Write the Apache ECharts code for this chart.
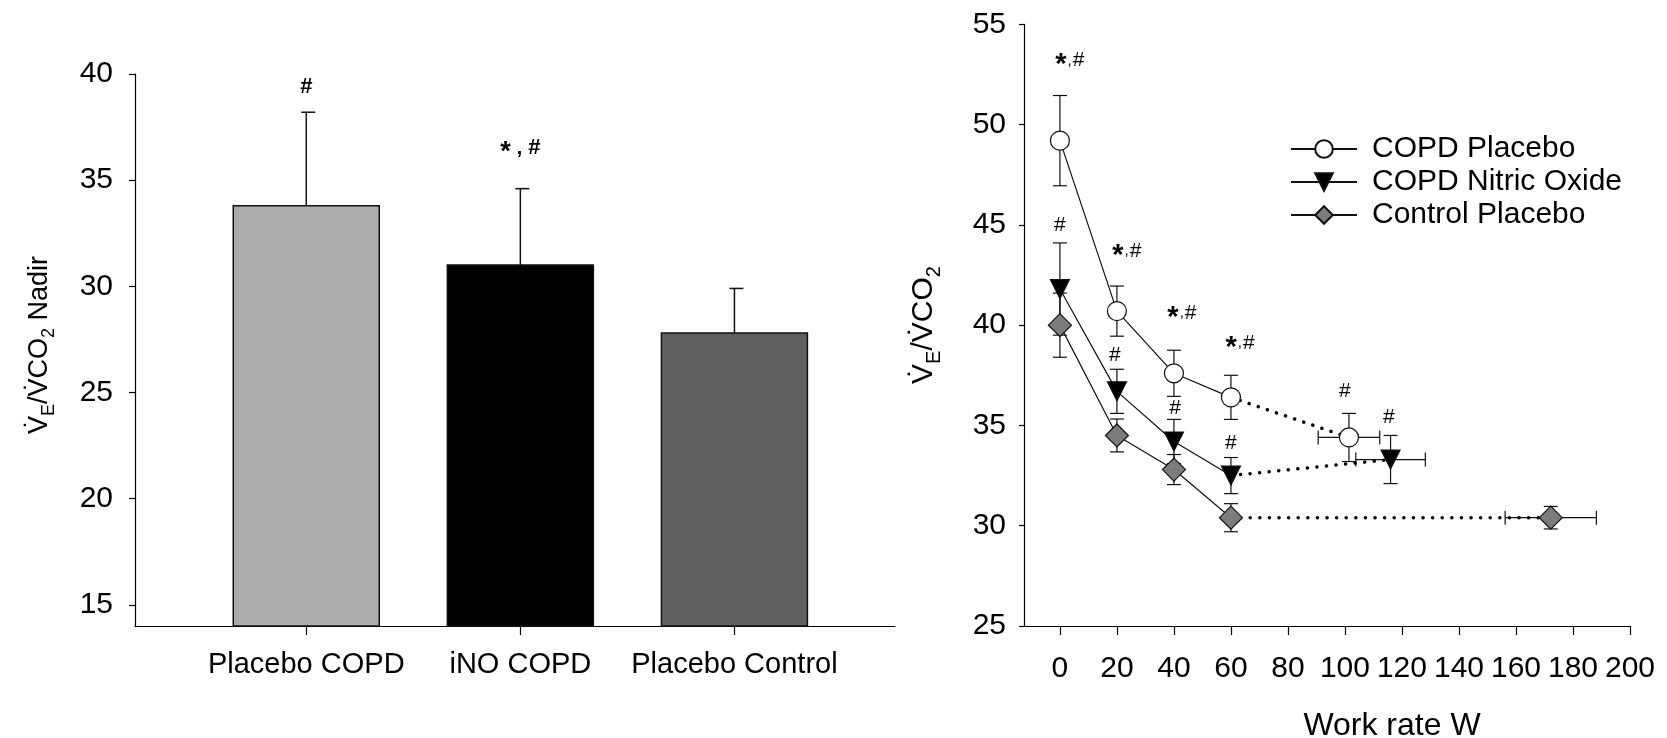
<!DOCTYPE html>
<html>
<head>
<meta charset="utf-8">
<script src="https://cdn.jsdelivr.net/npm/echarts@6/dist/echarts.min.js"></script>
<style>
  html, body { margin: 0; padding: 0; background: #ffffff; }
  #chart { width: 1667px; height: 738px; }
</style>
</head>
<body>
<div id="chart"></div>
<script>
// ---- Nadir VE/VCO2 by group (mean, SEM) ----
const groups = ['Placebo COPD', 'iNO COPD', 'Placebo Control'];
const nadirMean = [33.8, 31.0, 27.8];
const nadirSem = [4.4, 3.6, 2.1];
const nadirMarks = ['#', '*,#', ''];
const nadirMarkLevel = [39.4, 36.5, 0];
const nadirTicks = [15, 20, 25, 30, 35, 40];

// ---- VE/VCO2 across work rate (mean, SEM) ----
const workRates = [0, 20, 40, 60];
const copdPlacebo = [49.2, 40.7, 37.6, 36.4];
const copdPlaceboSem = [2.25, 1.25, 1.15, 1.1];
const copdNO = [41.8, 36.7, 34.2, 32.5];
const copdNOSem = [2.3, 1.1, 1.1, 0.9];
const controlPlacebo = [40.0, 34.5, 32.8, 30.4];
const controlPlaceboSem = [1.6, 0.82, 0.75, 0.7];

// peak exercise: [work rate, VE/VCO2, work rate SEM, VE/VCO2 SEM]
const copdPlaceboPeak = [101.4, 34.4, 10.8, 1.2];
const copdNOPeak = [116.0, 33.3, 12.2, 1.2];
const controlPlaceboPeak = [172.2, 30.4, 16.0, 0.56];

const workRateTicks = [0, 20, 40, 60, 80, 100, 120, 140, 160, 180, 200];

// significance marks: [work rate, level, text]
const curveMarks = [
  [3.5, 53.2, '*,#'],
  [0, 45.0, '#'],
  [23.5, 43.7, '*,#'],
  [19.3, 38.5, '#'],
  [42.8, 40.6, '*,#'],
  [40.4, 35.85, '#'],
  [63.2, 39.1, '*,#'],
  [60, 34.1, '#'],
  [100, 36.7, '#'],
  [115.4, 35.4, '#']
];

const FONT = '"Liberation Sans", Arial, sans-serif';
const chart = echarts.init(document.getElementById('chart'), null, { renderer: 'canvas' });

const axisLine = { show: true, onZero: false, lineStyle: { color: '#000', width: 1.2 } };

function seg(x1, y1, x2, y2, w) {
  return { type: 'line', shape: { x1, y1, x2, y2 }, style: { stroke: '#111', lineWidth: w || 1.2 } };
}

// bars with upward SEM whiskers
function renderBar(params, api) {
  const x = api.value(0), m = api.value(1), e = api.value(2);
  const cs = params.coordSys;
  const base = cs.y + cs.height;
  const top = api.coord([x, m]);
  const whisk = api.coord([x, m + e]);
  const half = 73;
  const fills = ['#acacac', '#000000', '#606060'];
  return {
    type: 'group',
    children: [
      { type: 'rect', shape: { x: top[0] - half, y: top[1], width: half * 2, height: base - top[1] },
        style: { fill: fills[params.dataIndex], stroke: '#111', lineWidth: 1.5 } },
      seg(top[0], top[1], top[0], whisk[1], 1.5),
      seg(top[0] - 5, whisk[1], top[0] + 9, whisk[1], 1.5)
    ]
  };
}

// vertical (and optional horizontal) SEM whiskers; item = [x, y, ySem, xSem]
function renderErr(params, api) {
  const x = api.value(0), y = api.value(1), ye = api.value(2), xe = api.value(3);
  const c = api.coord([x, y]);
  const t = api.coord([x, y + ye]);
  const b = api.coord([x, y - ye]);
  const cap = 7;
  const kids = [
    seg(c[0], t[1], c[0], b[1]),
    seg(c[0] - cap, t[1], c[0] + cap, t[1]),
    seg(c[0] - cap, b[1], c[0] + cap, b[1])
  ];
  if (xe > 0) {
    const l = api.coord([x - xe, y]);
    const r = api.coord([x + xe, y]);
    kids.push(seg(l[0], c[1], r[0], c[1]));
    kids.push(seg(l[0], c[1] - cap, l[0], c[1] + cap));
    kids.push(seg(r[0], c[1] - cap, r[0], c[1] + cap));
  }
  return { type: 'group', children: kids };
}

function markText(t, bold) {
  if (t === '*,#') return bold ? '{sb|*}{cb| , }{hb|#}' : '{s|*}{c|,}{h|#}';
  return bold ? '{hb|' + t + '}' : '{h|' + t + '}';
}
const markRich = {
  s: { fontSize: 29, fontWeight: 'bold', fontFamily: FONT, padding: [10, 0, 0, 0] },
  c: { fontSize: 15, fontFamily: FONT, padding: [0, 1, 0, 1] },
  h: { fontSize: 21, fontFamily: FONT },
  sb: { fontSize: 27, fontWeight: 'bold', fontFamily: FONT, padding: [9, 0, 0, 0] },
  cb: { fontSize: 21, fontWeight: 'bold', fontFamily: FONT },
  hb: { fontSize: 22, fontWeight: 'bold', fontFamily: FONT }
};

function renderMark(bold) {
  return function (params, api) {
    const p = api.coord([api.value(0), api.value(1)]);
    const txt = String(api.value(2));
    return {
      type: 'text', x: p[0], y: p[1],
      style: { text: markText(txt, bold), rich: markRich, align: 'center', verticalAlign: 'middle', fill: '#000' }
    };
  };
}

function errData(vals, sems, peak) {
  const d = workRates.map((w, i) => [w, vals[i], sems[i], 0]);
  d.push([peak[0], peak[1], peak[3], peak[2]]);
  return d;
}
function solidData(vals) { return workRates.map((w, i) => [w, vals[i]]); }
function dottedData(vals, peak) {
  return [{ value: [workRates[3], vals[3]], symbol: 'none' }, { value: [peak[0], peak[1]] }];
}

const groupStyle = [
  { name: 'COPD Placebo', vals: copdPlacebo, sem: copdPlaceboSem, peak: copdPlaceboPeak,
    symbol: 'circle', size: 19, rotate: 0, fill: '#ffffff' },
  { name: 'COPD Nitric Oxide', vals: copdNO, sem: copdNOSem, peak: copdNOPeak,
    symbol: 'triangle', size: 19, rotate: 180, fill: '#000000' },
  { name: 'Control Placebo', vals: controlPlacebo, sem: controlPlaceboSem, peak: controlPlaceboPeak,
    symbol: 'diamond', size: 23, rotate: 0, fill: '#7c7c7c' }
];

const series = [];
// left panel: bars and marks
series.push({
  type: 'custom', xAxisIndex: 0, yAxisIndex: 0, renderItem: renderBar, z: 2,
  data: groups.map((g, i) => [i + 1, nadirMean[i], nadirSem[i]])
});
series.push({
  type: 'custom', xAxisIndex: 0, yAxisIndex: 0, renderItem: renderMark(true), z: 4,
  data: nadirMarks.map((t, i) => [i + 1, nadirMarkLevel[i], t]).filter(d => d[2] !== '')
});
// right panel: whiskers, dotted links to peak, solid curves, marks
groupStyle.forEach(g => {
  series.push({
    type: 'custom', xAxisIndex: 1, yAxisIndex: 1, renderItem: renderErr, z: 2,
    data: errData(g.vals, g.sem, g.peak)
  });
});
groupStyle.forEach(g => {
  series.push({
    type: 'line', name: g.name + ' (peak)', xAxisIndex: 1, yAxisIndex: 1, z: 3,
    data: dottedData(g.vals, g.peak),
    symbol: g.symbol, symbolSize: g.size, symbolRotate: g.rotate,
    itemStyle: { color: g.fill, borderColor: '#111', borderWidth: 1.2 },
    lineStyle: { color: '#000', width: 3.5, type: [0.1, 9.5], cap: 'round' },
    animation: false, silent: true
  });
});
groupStyle.forEach(g => {
  series.push({
    type: 'line', name: g.name, xAxisIndex: 1, yAxisIndex: 1, z: 4,
    data: solidData(g.vals),
    symbol: g.symbol, symbolSize: g.size, symbolRotate: g.rotate, showAllSymbol: true,
    itemStyle: { color: g.fill, borderColor: '#111', borderWidth: 1.2 },
    lineStyle: { color: '#111', width: 1.2 },
    animation: false
  });
});
series.push({
  type: 'custom', xAxisIndex: 1, yAxisIndex: 1, renderItem: renderMark(false), z: 5,
  data: curveMarks
});

const option = {
  animation: false,
  backgroundColor: '#ffffff',
  textStyle: { fontFamily: FONT, color: '#000' },
  grid: [
    { left: 135, top: 74, width: 760, height: 552 },
    { left: 1024, top: 24.3, width: 606, height: 601.7 }
  ],
  xAxis: [
    {
      gridIndex: 0, type: 'value', min: 0.2, max: 3.75,
      axisLine, splitLine: { show: false },
      axisTick: { show: true, length: 9, customValues: [1, 2, 3], lineStyle: { color: '#000', width: 1.2 } },
      axisLabel: { customValues: [1, 2, 3], formatter: v => groups[Math.round(v) - 1] || '',
        fontSize: 29, fontFamily: FONT, color: '#000', margin: 24 }
    },
    {
      gridIndex: 1, type: 'value', min: -12.6, max: 200,
      axisLine, splitLine: { show: false },
      axisTick: { show: true, length: 9, customValues: workRateTicks, lineStyle: { color: '#000', width: 1.2 } },
      axisLabel: { customValues: workRateTicks, fontSize: 30, fontFamily: FONT, color: '#000', margin: 28 }
    }
  ],
  yAxis: [
    {
      gridIndex: 0, type: 'value', min: 14, max: 40,
      axisLine, splitLine: { show: false },
      axisTick: { show: true, length: 6, customValues: nadirTicks, lineStyle: { color: '#000', width: 1.2 } },
      axisLabel: { customValues: nadirTicks, fontSize: 30, fontFamily: FONT, color: '#000', margin: 22 }
    },
    {
      gridIndex: 1, type: 'value', min: 25, max: 55, interval: 5,
      axisLine, splitLine: { show: false },
      axisTick: { show: true, length: 5, lineStyle: { color: '#000', width: 1.2 } },
      axisLabel: { fontSize: 30, fontFamily: FONT, color: '#000', margin: 18 }
    }
  ],
  legend: {
    data: groupStyle.map(g => g.name),
    orient: 'vertical', left: 1290, top: 134, padding: 0,
    itemWidth: 66, itemHeight: 22, itemGap: 3,
    textStyle: { fontSize: 30, fontFamily: FONT, color: '#000', padding: [0, 0, 0, 10] },
    selectedMode: false
  },
  graphic: [
    {
      type: 'text', x: 40, y: 345, rotation: Math.PI / 2,
      style: {
        text: '{v|V\u0307}{sub|E}{v|/V\u0307CO}{sub|2}{v| Nadir}',
        align: 'center', verticalAlign: 'middle', fill: '#000',
        rich: {
          v: { fontSize: 27, fontFamily: FONT, lineHeight: 36, verticalAlign: 'middle' },
          sub: { fontSize: 18, fontFamily: FONT, lineHeight: 18, verticalAlign: 'bottom' }
        }
      }
    },
    {
      type: 'text', x: 924, y: 325, rotation: Math.PI / 2,
      style: {
        text: '{v|V\u0307}{sub|E}{v|/V\u0307CO}{sub|2}',
        align: 'center', verticalAlign: 'middle', fill: '#000',
        rich: {
          v: { fontSize: 30, fontFamily: FONT, lineHeight: 40, verticalAlign: 'middle' },
          sub: { fontSize: 20, fontFamily: FONT, lineHeight: 20, verticalAlign: 'bottom' }
        }
      }
    },
    {
      type: 'text', x: 1392, y: 726,
      style: { text: 'Work rate W', fontSize: 32, fontFamily: FONT, fill: '#000', align: 'center', verticalAlign: 'middle' }
    }
  ],
  series
};

chart.setOption(option);
</script>
</body>
</html>
